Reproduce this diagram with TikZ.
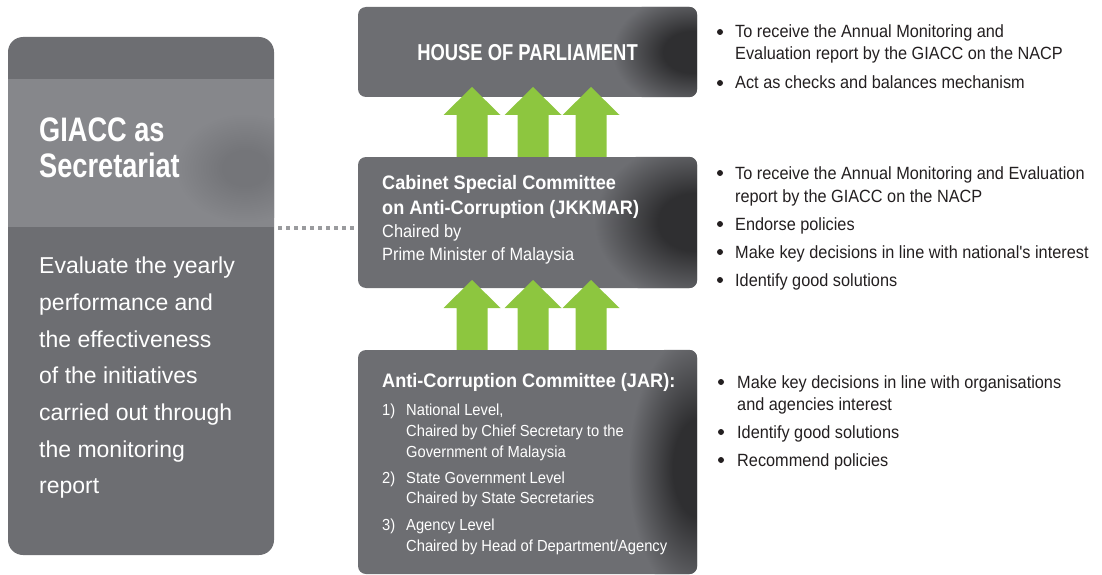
\documentclass[tikz,border=0pt]{standalone}
\usepackage{fontspec}
\setmainfont{Liberation Sans}
\newfontfamily\frn[FakeStretch=0.92]{Liberation Sans}
\newfontfamily\frw{Liberation Sans}
\newfontfamily\fbt[FakeStretch=0.8]{Liberation Sans}
\newfontfamily\fbb[FakeStretch=0.93]{Liberation Sans}
\definecolor{boxgray}{HTML}{6D6E72}
\definecolor{bandgray}{HTML}{86878B}
\definecolor{blobgray}{HTML}{747579}
\definecolor{shadowgray}{HTML}{2F2F31}
\definecolor{arrowgreen}{HTML}{8DC63F}
\definecolor{dotgray}{HTML}{9A9B9E}
\definecolor{txt}{HTML}{231F20}
\pgfdeclareradialshading{boxshadow}{\pgfpoint{0bp}{0bp}}{color(0bp)=(shadowgray); color(9bp)=(shadowgray); color(25bp)=(boxgray); color(50bp)=(boxgray)}
\pgfdeclareradialshading{bandblob}{\pgfpoint{0bp}{0bp}}{color(0bp)=(blobgray); color(8bp)=(blobgray); color(25bp)=(bandgray); color(50bp)=(bandgray)}
\tikzset{
  box/.style={fill=boxgray, rounded corners=8pt, draw=none, inner sep=0pt},
  wt/.style={text=white, inner sep=0pt, anchor=base west},
  wbold/.style={wt, font=\fbb\bfseries\fontsize{19.5}{22}\selectfont},
  wreg/.style={wt, font=\frn\fontsize{17.8}{20}\selectfont},
  wlist/.style={wt, font=\frn\fontsize{16}{18}\selectfont},
  bt/.style={text=txt, inner sep=0pt, anchor=base west, font=\frn\fontsize{17.7}{20}\selectfont},
  bul/.style={circle, fill=txt, inner sep=0pt, minimum size=6pt},
  arr/.style={fill=arrowgreen, draw=none},
  dotline/.style={draw=dotgray, line width=4pt, dash pattern=on 4pt off 4pt},
  lt/.style={wt, font=\frw\fontsize{23}{26}\selectfont}
}
\begin{document}
\begin{tikzpicture}[x=1pt,y=-1pt]
\useasboundingbox (0,0) rectangle (1102,575);
% ---------- left panel ----------
\node[box, rounded corners=15pt, minimum width=266pt, minimum height=518pt] (gp) at (141,296) {};
\begin{scope}
\clip (8,79) rectangle (274,227);
\fill[bandgray] (8,79) rectangle (274,227);
\shade[shading=bandblob] (245,168) ellipse [x radius=70pt, y radius=55pt];
\end{scope}
\node[wt, font=\fbt\bfseries\fontsize{34}{38}\selectfont] (t1) at (39,142) {GIACC as};
\node[wt, font=\fbt\bfseries\fontsize{34}{38}\selectfont] (t2) at (39,177) {Secretariat};
\node[lt] (l1) at (39,273) {Evaluate the yearly};
\node[lt] (l2) at (39,310) {performance and};
\node[lt] (l3) at (39,347) {the effectiveness};
\node[lt] (l4) at (39,383) {of the initiatives};
\node[lt] (l5) at (39,420) {carried out through};
\node[lt] (l6) at (39,457) {the monitoring};
\node[lt] (l7) at (39,493) {report};
% ---------- top box ----------
\node[box, minimum width=339pt, minimum height=90pt] (hop) at (527.5,52) {};
\begin{scope}
\clip[rounded corners=8pt] (hop.south west) rectangle (hop.north east);
\shade[shading=boxshadow] (692,52) ellipse [x radius=80pt, y radius=58pt];
\end{scope}
\node[text=white, inner sep=0pt, anchor=base, font=\fbt\bfseries\fontsize{23}{26}\selectfont] (hopt) at (527.5,61) {HOUSE OF PARLIAMENT};
% ---------- arrows 1 ----------
\foreach \cx in {472,533,591}{
  \fill[arr] (\cx-15.5,162) -- (\cx-15.5,115) -- (\cx-28.5,115) -- (\cx,87) -- (\cx+28.5,115) -- (\cx+15.5,115) -- (\cx+15.5,162) -- cycle;
}
% ---------- middle box ----------
\node[box, minimum width=339pt, minimum height=131pt] (csc) at (527.5,222.5) {};
\begin{scope}
\clip[rounded corners=8pt] (csc.south west) rectangle (csc.north east);
\shade[shading=boxshadow] (694,222) ellipse [x radius=100pt, y radius=80pt];
\end{scope}
\node[wbold] (c1) at (382,189) {Cabinet Special Committee};
\node[wbold] (c2) at (382,214) {on Anti-Corruption (JKKMAR)};
\node[wreg] (c3) at (382,237) {Chaired by};
\node[wreg] (c4) at (382,260) {Prime Minister of Malaysia};
% ---------- arrows 2 ----------
\foreach \cx in {472,533,591}{
  \fill[arr] (\cx-15.5,355) -- (\cx-15.5,308) -- (\cx-28.5,308) -- (\cx,280) -- (\cx+28.5,308) -- (\cx+15.5,308) -- (\cx+15.5,355) -- cycle;
}
% ---------- bottom box ----------
\node[box, minimum width=339pt, minimum height=224pt] (jar) at (527.5,462) {};
\begin{scope}
\clip[rounded corners=8pt] (jar.south west) rectangle (jar.north east);
\shade[shading=boxshadow] (698,468) ellipse [x radius=70pt, y radius=135pt];
\end{scope}
\node[wbold] (j0) at (382,387) {Anti-Corruption Committee (JAR):};
\node[wlist] (n1) at (382,415) {1)};
\node[wlist] (j1) at (406,415) {National Level,};
\node[wlist] (j2) at (406,436) {Chaired by Chief Secretary to the};
\node[wlist] (j3) at (406,457) {Government of Malaysia};
\node[wlist] (n2) at (382,483) {2)};
\node[wlist] (j4) at (406,483) {State Government Level};
\node[wlist] (j5) at (406,503) {Chaired by State Secretaries};
\node[wlist] (n3) at (382,530) {3)};
\node[wlist] (j6) at (406,530) {Agency Level};
\node[wlist] (j7) at (406,551) {Chaired by Head of Department/Agency};
% ---------- dotted connector ----------
\coordinate (dl) at (0,228);
\draw[dotline] ([xshift=4pt]gp.east |- dl) -- ([xshift=-2pt]csc.west |- dl);
% ---------- right bullets ----------
\node[bul] (b1) at (720,32) {};
\node[bt] (r1) at (735,38) {To receive the Annual Monitoring and};
\node[bt] (r2) at (735,60) {Evaluation report by the GIACC on the NACP};
\node[bul] (b2) at (720,83) {};
\node[bt] (r3) at (735,89) {Act as checks and balances mechanism};
\node[bul] (b3) at (720,173) {};
\node[bt] (r4) at (735,179) {To receive the Annual Monitoring and Evaluation};
\node[bt] (r5) at (735,202) {report by the GIACC on the NACP};
\node[bul] (b4) at (720,224) {};
\node[bt] (r6) at (735,230) {Endorse policies};
\node[bul] (b5) at (720,252) {};
\node[bt] (r7) at (735,258) {Make key decisions in line with national's interest};
\node[bul] (b6) at (720,280) {};
\node[bt] (r8) at (735,286) {Identify good solutions};
\node[bul] (b7) at (721,382) {};
\node[bt] (r9) at (737,388) {Make key decisions in line with organisations};
\node[bt] (r10) at (737,410) {and agencies interest};
\node[bul] (b8) at (721,432) {};
\node[bt] (r11) at (737,438) {Identify good solutions};
\node[bul] (b9) at (721,460) {};
\node[bt] (r12) at (737,466) {Recommend policies};
\end{tikzpicture}
\end{document}
